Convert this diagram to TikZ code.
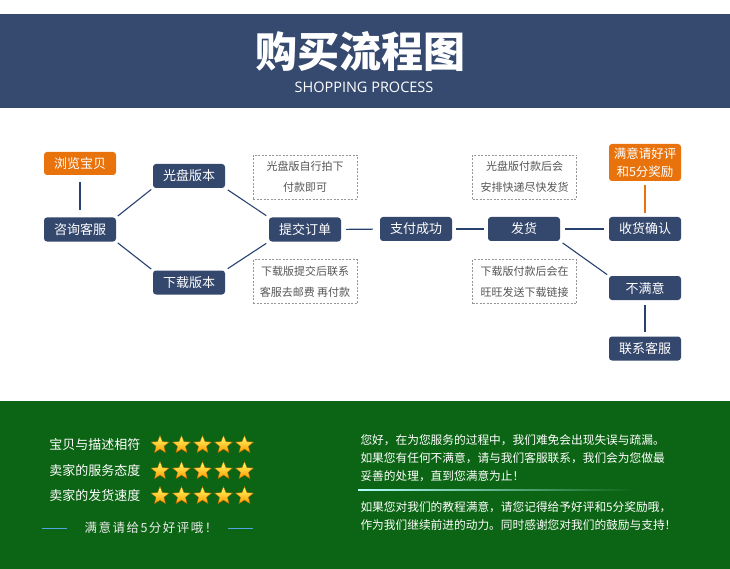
\documentclass[tikz,border=0pt]{standalone}
\usepackage{fontspec}
\setmainfont{Noto Sans CJK SC}
\newfontfamily\latinf{Open Sans}
\newfontfamily\slogf[LetterSpace=12]{Noto Sans CJK SC}
\usetikzlibrary{shapes.geometric}
\definecolor{band}{RGB}{54,74,112}
\definecolor{navy}{RGB}{52,71,108}
\definecolor{linec}{RGB}{40,66,112}
\definecolor{orangec}{RGB}{232,115,12}
\definecolor{greenbg}{RGB}{12,101,20}
\definecolor{notegray}{RGB}{85,85,85}
\definecolor{dashgray}{RGB}{150,150,150}
\definecolor{ltblue}{RGB}{80,165,225}
\tikzset{
  box/.style={fill=navy, rounded corners=3pt, text=white, minimum width=72pt, minimum height=24pt, inner sep=0pt, font=\fontsize{13}{13}\selectfont},
  obox/.style={box, fill=orangec},
  note/.style={draw=dashgray, dash pattern=on 2pt off 1.5pt, line width=0.6pt, minimum width=104pt, minimum height=44pt, inner sep=0pt, align=center, text=notegray, font=\fontsize{11}{21}\selectfont},
  conn/.style={draw=linec, line width=1.1pt},
  ostar/.style={star, star points=5, star point ratio=2.3, minimum size=19pt, inner sep=0pt, top color=yellow!60!white, bottom color=orange!80!yellow, draw=orange!70!black, line width=0.3pt},
  rate/.style={text=white, anchor=east, font=\fontsize{13}{13}\selectfont},
  para/.style={text=white, anchor=west, font=\fontsize{11.7}{11.7}\selectfont}
}
\begin{document}
\begin{tikzpicture}[x=1pt,y=-1pt]
\useasboundingbox (0,0) rectangle (730,569);
\fill[white] (0,0) rectangle (730,569);
% header band
\fill[band] (0,14) rectangle (730,108);
\node[text=white, font=\bfseries\fontsize{42}{42}\selectfont] (title) at (360,52) {购买流程图};
\node[text=white, font=\latinf\fontsize{14.5}{14.5}\selectfont] (subtitle) at (364,87) {SHOPPING PROCESS};
% flow nodes
\node[obox, minimum height=23pt] (browse) at (80,163.5) {浏览宝贝};
\node[box] (consult) at (80,229.5) {咨询客服};
\node[box] (cd) at (189,176) {光盘版本};
\node[box] (dl) at (189,282.5) {下载版本};
\node[box] (submit) at (305,229.5) {提交订单};
\node[box] (pay) at (416,229) {支付成功};
\node[box] (ship) at (524,229) {发货};
\node[box] (recv) at (645,229) {收货确认};
\node[obox, minimum height=37pt, align=center, font=\fontsize{12.5}{18}\selectfont] (good) at (645,162.5) {满意请好评\\和5分奖励};
\node[box] (bad) at (645,288) {不满意};
\node[box] (contact) at (645,348.5) {联系客服};
% notes
\node[note] (n1) at (305,177) {光盘版自行拍下\\付款即可};
\node[note] (n2) at (305,281.5) {下载版提交后联系\\客服去邮费 再付款};
\node[note] (n3) at (524.5,177) {光盘版付款后会\\安排快递尽快发货};
\node[note] (n4) at (524.5,281.5) {下载版付款后会在\\旺旺发送下载链接};
% connectors
\draw[conn, shorten <=7pt, shorten >=7pt] (browse) -- (consult);
\draw[conn, shorten <=2pt, shorten >=2pt] (consult.north east) -- (cd.south west);
\draw[conn, shorten <=2pt, shorten >=2pt] (consult.south east) -- (dl.north west);
\draw[conn, shorten <=3pt, shorten >=3pt] (cd.south east) -- (submit.north west);
\draw[conn, shorten <=3pt, shorten >=3pt] (dl.north east) -- (submit.south west);
\draw[conn, shorten <=5pt, shorten >=7pt] (submit) -- (pay);
\draw[conn, shorten <=4pt, shorten >=4pt] (pay) -- (ship);
\draw[conn, shorten <=5pt, shorten >=5pt] (ship) -- (recv);
\draw[conn, draw=orangec, shorten <=4pt, shorten >=4pt] (good) -- (recv);
\draw[conn, shorten <=3pt, shorten >=2pt] (ship.south east) -- (bad.north west);
\draw[conn, shorten <=5pt, shorten >=4pt] (bad) -- (contact);
% green band
\fill[greenbg] (0,401) rectangle (730,569);
\node[rate] (r1) at (144,445) {宝贝与描述相符};
\node[rate] (r2) at (144,471) {卖家的服务态度};
\node[rate] (r3) at (144,496) {卖家的发货速度};
\foreach \r/\yy in {1/445,2/471,3/496}{
  \foreach \s/\xx in {1/160,2/181.5,3/202.5,4/223.5,5/244.5}{
    \node[ostar] (s\r\s) at (\xx,\yy) {};
  }
}
\coordinate (la) at (42,528);
\coordinate (lb) at (67,528);
\coordinate (lc) at (228,528);
\coordinate (ld) at (253,528);
\draw[ltblue, line width=1pt] (la) -- (lb);
\draw[ltblue, line width=1pt] (lc) -- (ld);
\node[text=white!85!gray, font=\slogf\fontsize{12.5}{12.5}\selectfont] (slogan) at (151,528) {满意请给5分好评哦！};
% paragraph
\node[para] (p1) at (357,440) {您好，在为您服务的过程中，我们难免会出现失误与疏漏。};
\node[para] (p2) at (357,458) {如果您有任何不满意，请与我们客服联系，我们会为您做最};
\node[para] (p3) at (357,476) {妥善的处理，直到您满意为止！};
\coordinate (sa) at (358,489);
\coordinate (sb) at (635,490);
\shade[left color=cyan!30!white, right color=greenbg] (sa) rectangle (sb);
\node[para] (p4) at (357,507) {如果您对我们的教程满意，请您记得给予好评和5分奖励哦，};
\node[para] (p5) at (357,525) {作为我们继续前进的动力。同时感谢您对我们的鼓励与支持！};
\end{tikzpicture}
\end{document}
